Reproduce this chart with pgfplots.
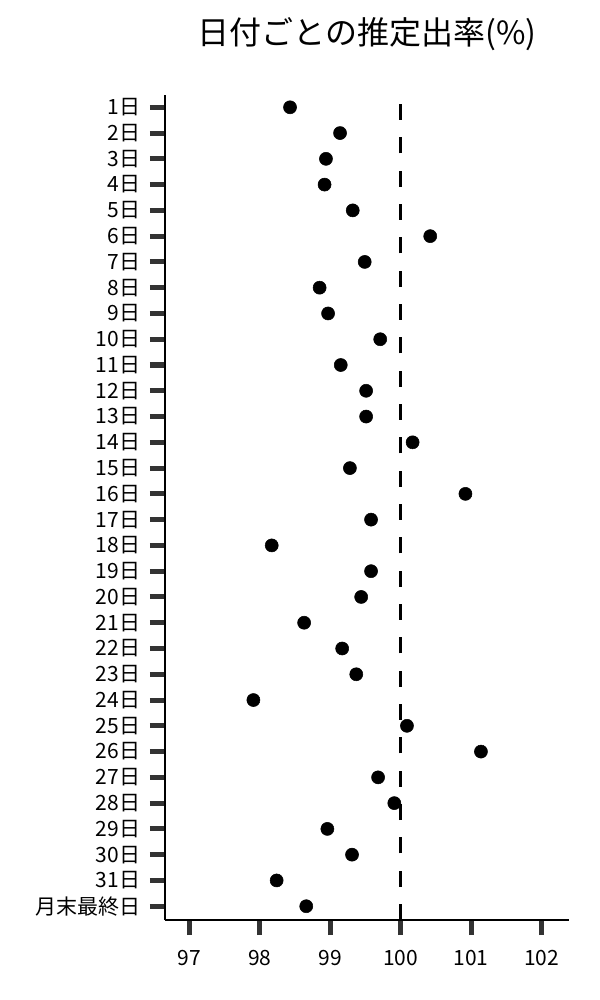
\documentclass[border=0pt]{standalone}
\usepackage{fontspec}
\setmainfont{Noto Sans CJK JP}
\usepackage{pgfplots}
\pgfplotsset{compat=1.18}
\definecolor{tickgray}{HTML}{333333}

\begin{document}
\begin{tikzpicture}
    % frame of the 600x1000 picture (1px = 0.75pt), axis box lower-left at origin
    \useasboundingbox (-123.75pt,-60pt) rectangle (326.25pt,690pt);
    \begin{axis}[
        at={(0pt,0pt)}, anchor=south west,
        scale only axis,
        width  = 303pt,
        height = 618.75pt,
        xmin=96.655, xmax=102.39,
        ymin=-0.535, ymax=31.477,
        axis x line*=bottom,
        axis y line*=left,
        axis line style={line width=0.9pt, black},
        xtick={97,98,99,100,101,102},
        ytick={0,...,31},
        yticklabels={月末最終日,31日,30日,29日,28日,27日,26日,25日,24日,23日,22日,21日,20日,19日,18日,17日,16日,15日,14日,13日,12日,11日,10日,9日,8日,7日,6日,5日,4日,3日,2日,1日},
        tick align=outside,
        major tick length=11.25pt,
        tick style={line width=3.8pt, color=tickgray},
        ticklabel style={font=\fontsize{15.75}{18}\selectfont},
        xticklabel style={yshift=-8pt},
        yticklabel style={xshift=-3.75pt},
        /pgf/number format/assume math mode=true,
        title={日付ごとの推定出率(\%)},
        title style={at={(0.5,1)}, anchor=center, yshift=39.4pt,
                     font=\fontsize{24}{28}\selectfont},
        clip=false,
    ]
        % reference line at 100
        \addplot[black, line width=2pt, dash pattern=on 12pt off 13pt]
            coordinates {(100,-0.535) (100,31.477)};

        % estimate per day (y = 31 is 1日, y = 0 is 月末最終日)
        \addplot[only marks, mark=*, mark size=4.9pt, black]
            coordinates {
            (98.43,31) (99.14,30) (98.94,29) (98.92,28) (99.32,27)
            (100.42,26) (99.49,25) (98.85,24) (98.97,23) (99.71,22)
            (99.15,21) (99.51,20) (99.51,19) (100.17,18) (99.28,17)
            (100.92,16) (99.58,15) (98.17,14) (99.58,13) (99.44,12)
            (98.63,11) (99.17,10) (99.37,9) (97.91,8) (100.09,7)
            (101.14,6) (99.68,5) (99.91,4) (98.96,3) (99.31,2)
            (98.24,1) (98.66,0)
            };
    \end{axis}
\end{tikzpicture}
\end{document}
